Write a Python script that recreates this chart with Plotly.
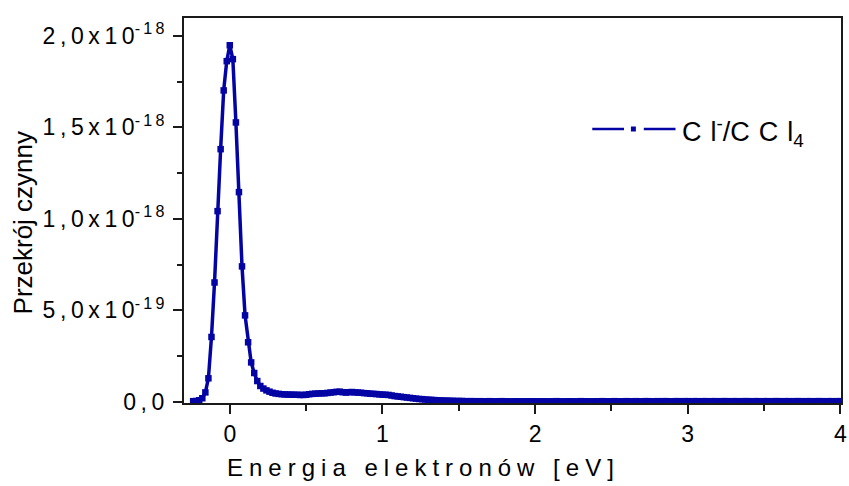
import plotly.graph_objects as go

# Electron energy [eV]
energy_ev = [
    -0.24, -0.22, -0.20, -0.18, -0.16, -0.14, -0.12, -0.10, -0.08, -0.06, -0.04, -0.02,
    0.00, 0.02, 0.04, 0.06, 0.08, 0.10, 0.12, 0.14, 0.16, 0.18, 0.20, 0.22, 0.24,
    0.26, 0.28, 0.30, 0.32, 0.34, 0.36, 0.38, 0.40, 0.42, 0.44, 0.46, 0.48,
    0.50, 0.52, 0.54, 0.56, 0.58, 0.60, 0.62, 0.64, 0.66, 0.68, 0.70, 0.72, 0.74,
    0.76, 0.78, 0.80, 0.82, 0.84, 0.86, 0.88, 0.90, 0.92, 0.94, 0.96, 0.98,
    1.00, 1.02, 1.04, 1.06, 1.08, 1.10, 1.12, 1.14, 1.16, 1.18, 1.20, 1.22, 1.24,
    1.26, 1.28, 1.30, 1.32, 1.34, 1.36, 1.38, 1.40, 1.42, 1.44, 1.46, 1.48,
    1.50, 1.52, 1.54, 1.56, 1.58, 1.60, 1.62, 1.64, 1.66, 1.68, 1.70, 1.72, 1.74,
    1.76, 1.78, 1.80, 1.82, 1.84, 1.86, 1.88, 1.90, 1.92, 1.94, 1.96, 1.98,
    2.00, 2.02, 2.04, 2.06, 2.08, 2.10, 2.12, 2.14, 2.16, 2.18, 2.20, 2.22, 2.24,
    2.26, 2.28, 2.30, 2.32, 2.34, 2.36, 2.38, 2.40, 2.42, 2.44, 2.46, 2.48,
    2.50, 2.52, 2.54, 2.56, 2.58, 2.60, 2.62, 2.64, 2.66, 2.68, 2.70, 2.72, 2.74,
    2.76, 2.78, 2.80, 2.82, 2.84, 2.86, 2.88, 2.90, 2.92, 2.94, 2.96, 2.98,
    3.00, 3.02, 3.04, 3.06, 3.08, 3.10, 3.12, 3.14, 3.16, 3.18, 3.20, 3.22, 3.24,
    3.26, 3.28, 3.30, 3.32, 3.34, 3.36, 3.38, 3.40, 3.42, 3.44, 3.46, 3.48,
    3.50, 3.52, 3.54, 3.56, 3.58, 3.60, 3.62, 3.64, 3.66, 3.68, 3.70, 3.72, 3.74,
    3.76, 3.78, 3.80, 3.82, 3.84, 3.86, 3.88, 3.90, 3.92, 3.94, 3.96, 3.98,
    4.00,
]

# Cross section for Cl- formation from CCl4, in units of 1e-18 (cm^2)
cross_section_e18 = [
    0.003, 0.004, 0.008, 0.019, 0.051, 0.128, 0.354, 0.652, 1.042, 1.381, 1.702, 1.862,
    1.949, 1.873, 1.527, 1.146, 0.740, 0.472, 0.325, 0.215, 0.157, 0.113, 0.086, 0.072, 0.062,
    0.055, 0.049, 0.045, 0.043, 0.041, 0.040, 0.039, 0.039, 0.038, 0.038, 0.037, 0.037,
    0.038, 0.041, 0.043, 0.044, 0.045, 0.046, 0.046, 0.048, 0.050, 0.052, 0.054, 0.055, 0.052,
    0.050, 0.052, 0.053, 0.051, 0.050, 0.049, 0.047, 0.046, 0.044, 0.043, 0.042, 0.040,
    0.039, 0.038, 0.037, 0.034, 0.031, 0.029, 0.027, 0.025, 0.023, 0.021, 0.019, 0.017, 0.015,
    0.014, 0.012, 0.011, 0.010, 0.009, 0.008, 0.007, 0.006, 0.006, 0.005, 0.005, 0.004,
    0.004, 0.004, 0.003, 0.003, 0.003, 0.003, 0.002, 0.003, 0.002, 0.002, 0.003, 0.002, 0.002,
    0.002, 0.003, 0.002, 0.002, 0.001, 0.002, 0.002, 0.002, 0.001, 0.002, 0.002, 0.002,
    0.002, 0.001, 0.002, 0.002, 0.001, 0.002, 0.002, 0.003, 0.002, 0.001, 0.002, 0.002, 0.002,
    0.001, 0.002, 0.003, 0.002, 0.002, 0.001, 0.002, 0.002, 0.002, 0.003, 0.002, 0.002,
    0.002, 0.003, 0.002, 0.002, 0.002, 0.003, 0.002, 0.002, 0.003, 0.002, 0.002, 0.003, 0.003,
    0.002, 0.002, 0.003, 0.002, 0.003, 0.003, 0.002, 0.002, 0.003, 0.003, 0.002, 0.003,
    0.003, 0.002, 0.003, 0.003, 0.002, 0.003, 0.003, 0.002, 0.003, 0.003, 0.002, 0.003, 0.003,
    0.003, 0.002, 0.003, 0.003, 0.002, 0.003, 0.003, 0.003, 0.002, 0.003, 0.003, 0.002,
    0.003, 0.003, 0.002, 0.003, 0.003, 0.003, 0.002, 0.003, 0.003, 0.002, 0.003, 0.003, 0.003,
    0.002, 0.003, 0.003, 0.002, 0.003, 0.003, 0.003, 0.002, 0.003, 0.003, 0.002, 0.003,
    0.003,
]

assert len(energy_ev) == len(cross_section_e18)

y_tick_vals = [0.0, 0.5, 1.0, 1.5, 2.0]
y_tick_mantissa = ["0,0", "5,0", "1,0", "1,5", "2,0"]
y_tick_exponent = [None, "-19", "-18", "-18", "-18"]
x_tick_vals = [0, 1, 2, 3, 4]

x_title = "Energia elektronów [eV]"
y_title = "Przekrój czynny"

LINE_COLOR = "#0404a4"
FONT = "Liberation Sans, Arial, sans-serif"
AXIS_COLOR = "#1a1a1a"


def spread(text, gap="\u2009"):
    """Letter-space a plain string with narrow unicode spaces."""
    return gap.join(text)


y_tick_text = []
for mant, exp in zip(y_tick_mantissa, y_tick_exponent):
    if exp is None:
        y_tick_text.append(spread(mant))
    else:
        y_tick_text.append(spread(mant + "x10") + "<sup>" + spread(exp) + "</sup>")

fig = go.Figure()
fig.add_trace(
    go.Scatter(
        x=energy_ev,
        y=cross_section_e18,
        mode="lines+markers",
        name="Cl-/CCl4",
        line=dict(color=LINE_COLOR, width=3.5),
        marker=dict(symbol="square", size=6.5, color=LINE_COLOR),
        showlegend=False,
    )
)

W, H = 849, 486
ML, MR, MT, MB = 184, 2, 18, 83
PW, PH = W - ML - MR, H - MT - MB


def px_to_paper_x(px):
    return (px - ML) / PW


def px_to_paper_y(py):
    return (H - MB - py) / PH


# Origin-style legend: line, marker, line, then label
leg_y = px_to_paper_y(129)
shapes = [
    dict(type="line", xref="paper", yref="paper",
         x0=px_to_paper_x(596), x1=px_to_paper_x(628), y0=leg_y, y1=leg_y,
         line=dict(color=LINE_COLOR, width=2.5)),
    dict(type="line", xref="paper", yref="paper",
         x0=px_to_paper_x(648), x1=px_to_paper_x(680), y0=leg_y, y1=leg_y,
         line=dict(color=LINE_COLOR, width=2.5)),
    dict(type="rect", xref="paper", yref="paper",
         x0=px_to_paper_x(635), x1=px_to_paper_x(640),
         y0=px_to_paper_y(131.5), y1=px_to_paper_y(126.5),
         line=dict(width=0), fillcolor=LINE_COLOR),
]

annotations = [
    dict(
        xref="paper", yref="paper",
        x=px_to_paper_x(685), y=px_to_paper_y(132), xanchor="left", yanchor="middle",
        text=spread("Cl", "\u2004") + "<sup>-</sup>/" + spread("CCl", "\u2004") + "<sub>4</sub>",
        showarrow=False, font=dict(family=FONT, size=27, color="black"),
    ),
    dict(
        xref="paper", yref="paper",
        x=px_to_paper_x(423), y=px_to_paper_y(467), xanchor="center", yanchor="middle",
        text=spread(x_title, "\u2005"),
        showarrow=False, font=dict(family=FONT, size=24, color="black"),
    ),
    dict(
        xref="paper", yref="paper",
        x=px_to_paper_x(22), y=px_to_paper_y(222), xanchor="center", yanchor="middle",
        text=y_title, textangle=-90,
        showarrow=False, font=dict(family=FONT, size=26, color="black"),
    ),
]

fig.update_layout(
    width=W, height=H,
    margin=dict(l=ML, r=MR, t=MT, b=MB, pad=0),
    paper_bgcolor="white", plot_bgcolor="white",
    font=dict(family=FONT, size=22, color="black"),
    shapes=shapes,
    annotations=annotations,
)

fig.update_xaxes(
    range=[-0.3, 4.004],
    tickvals=x_tick_vals,
    ticktext=[str(v) for v in x_tick_vals],
    ticks="outside", ticklen=9, tickwidth=2, tickcolor=AXIS_COLOR,
    minor=dict(ticks="outside", ticklen=6, tickwidth=2, tickcolor=AXIS_COLOR, dtick=0.5, tick0=0),
    showline=True, linewidth=2, linecolor=AXIS_COLOR, mirror=True,
    showgrid=False, zeroline=False,
    tickfont=dict(family=FONT, size=23, color="black"),
    ticklabelstandoff=0,
    ticklabeloverflow="allow",
)

fig.update_yaxes(
    range=[-0.007, 2.098],
    tickvals=y_tick_vals,
    ticktext=y_tick_text,
    ticks="outside", ticklen=9, tickwidth=2, tickcolor=AXIS_COLOR,
    minor=dict(ticks="outside", ticklen=5, tickwidth=2, tickcolor=AXIS_COLOR, dtick=0.25, tick0=0),
    showline=True, linewidth=2, linecolor=AXIS_COLOR, mirror=True,
    showgrid=False, zeroline=False,
    tickfont=dict(family=FONT, size=23, color="black"),
    ticklabelstandoff=4,
)

fig.write_html("out.html")
